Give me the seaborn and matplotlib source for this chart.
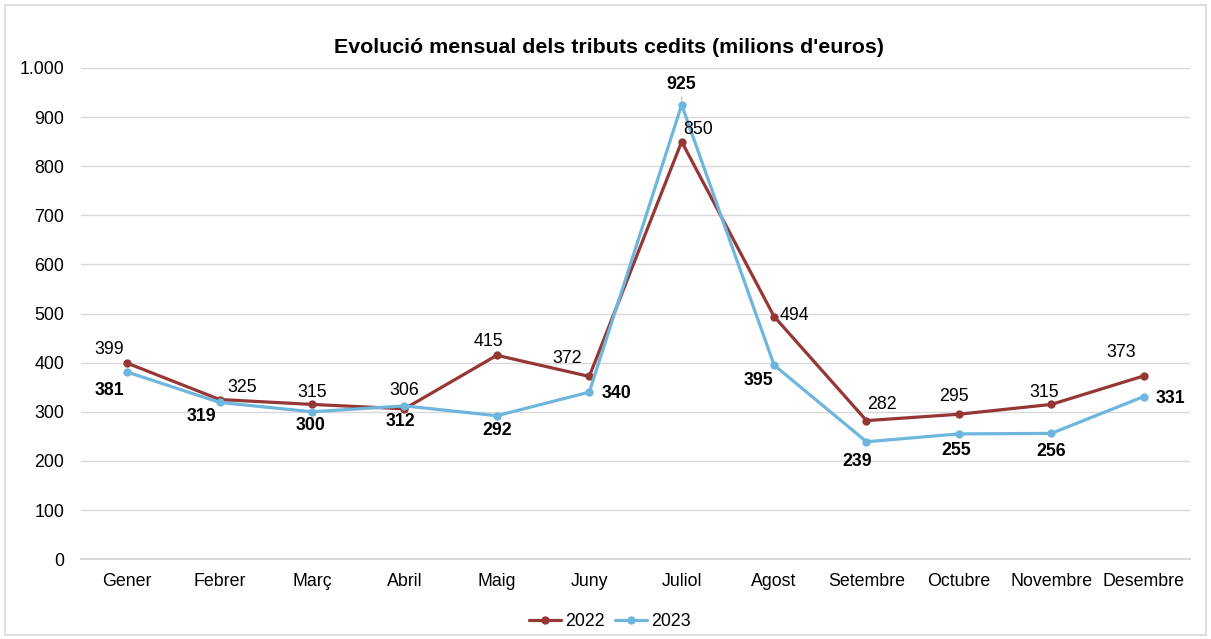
import matplotlib
matplotlib.use("Agg")
import matplotlib.pyplot as plt
import seaborn as sns
import pandas as pd
from matplotlib.ticker import FuncFormatter
from matplotlib.patches import Rectangle

months = ["Gener", "Febrer", "Març", "Abril", "Maig", "Juny", "Juliol", "Agost",
          "Setembre", "Octubre", "Novembre", "Desembre"]
values_2022 = [399, 325, 315, 306, 415, 372, 850, 494, 282, 295, 315, 373]
values_2023 = [381, 319, 300, 312, 292, 340, 925, 395, 239, 255, 256, 331]
years = ["2022", "2023"]
colors = {"2022": "#953735", "2023": "#6EB6DD"}

df = pd.DataFrame({
    "mes": months * 2,
    "x": list(range(len(months))) * 2,
    "valor": values_2022 + values_2023,
    "any": [years[0]] * len(months) + [years[1]] * len(months),
})

sns.set_theme(style="white")
plt.rcParams["font.family"] = ["Liberation Sans", "DejaVu Sans"]
plt.rcParams["text.color"] = "#000000"

fig = plt.figure(figsize=(12.11, 6.39), dpi=100)
ax = fig.add_axes([0.0669, 0.125, 0.9157, 0.7686])

sns.lineplot(data=df, x="x", y="valor", hue="any", palette=colors, marker="o",
             markersize=6, markeredgewidth=0, linewidth=2.3, ax=ax)

ax.set_xlim(-0.5, len(months) - 0.5)
ax.set_ylim(0, 1000)
ax.set_yticks(range(0, 1001, 100))
ax.yaxis.set_major_formatter(FuncFormatter(lambda v, p: f"{int(v):,}".replace(",", ".")))
ax.set_xticks(range(len(months)))
ax.set_xticklabels(months)
ax.tick_params(axis="both", labelsize=12.8, colors="#000000", length=0)
ax.tick_params(axis="y", pad=12)
ax.tick_params(axis="x", pad=10)
ax.set_xlabel("")
ax.set_ylabel("")
ax.grid(axis="y", color="#D9D9D9", linewidth=1)
ax.set_axisbelow(True)
for s in ["top", "right", "left"]:
    ax.spines[s].set_visible(False)
ax.spines["bottom"].set_color("#D9D9D9")
ax.spines["bottom"].set_linewidth(1.5)

# label offsets (points)
off22 = [(-13, 10), (16.5, 9), (0, 8.6), (0, 13), (-6, 10), (-16, 13), (11.5, 8.6), (14.4, 0.7),
         (11, 11.5), (-3.6, 13), (-5, 8.6), (-16.5, 17)]
off23 = [(-13, -13), (-13, -10), (-1.4, -10), (-3, -11), (0, -11), (19.5, -0.7), (0, 14.4), (-11.5, -11),
         (-7, -14.4), (-2, -12), (0, -13), (19.5, -1.5)]
for i, v in enumerate(values_2022):
    ax.annotate(str(v), (i, v), xytext=off22[i], textcoords="offset points",
                ha="center", va="center", fontsize=12.8, color="#000000")
for i, v in enumerate(values_2023):
    kw = {}
    if off23[i][1] > 12:
        kw["arrowprops"] = dict(arrowstyle="-", color="#BFBFBF", lw=0.8, shrinkA=7, shrinkB=3)
    ax.annotate(str(v), (i, v), xytext=off23[i], textcoords="offset points",
                ha="center", va="center", fontsize=12.8, color="#000000", fontweight="bold", **kw)

fig.suptitle("Evolució mensual dels tributs cedits (milions d'euros)", y=0.94,
             fontsize=15.4, fontweight="bold", x=0.503, color="#000000")

handles, labels = ax.get_legend_handles_labels()
ax.legend(handles, labels, loc="center", bbox_to_anchor=(0.477, -0.128), ncol=2,
          frameon=False, fontsize=12.8, handlelength=1.8, handletextpad=0.2,
          columnspacing=0.6)

fig.patches.append(Rectangle((0.004, 0.006), 0.992, 0.986, transform=fig.transFigure,
                             fill=False, edgecolor="#D9D9D9", linewidth=1.2))

fig.savefig("out.png", dpi=100)
